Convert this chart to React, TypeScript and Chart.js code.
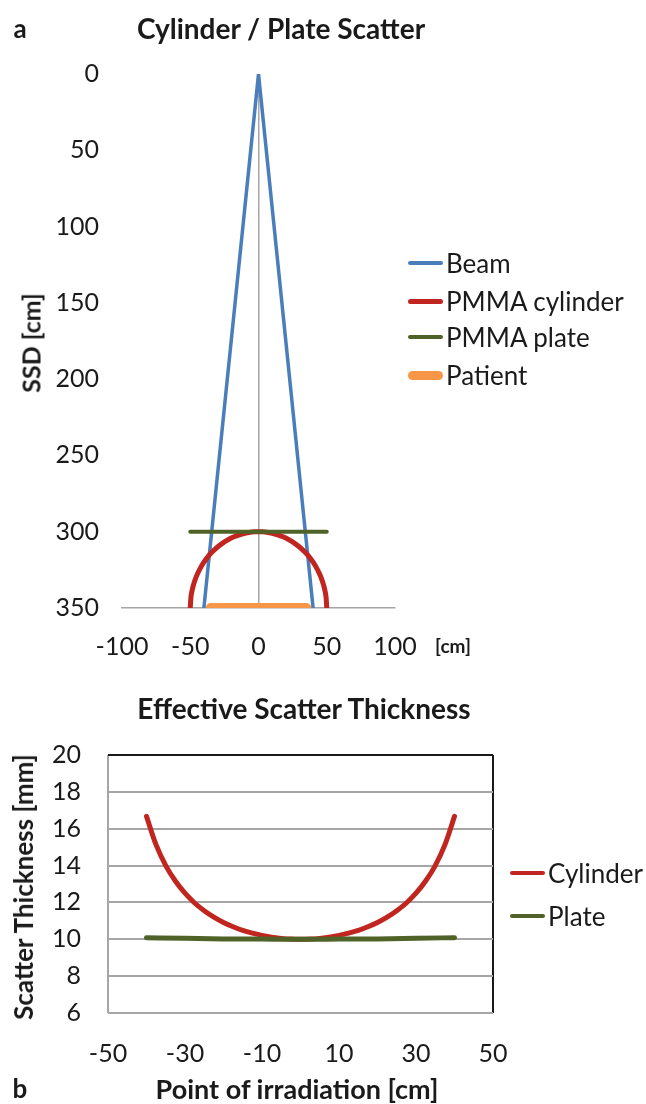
import React, { useEffect, useRef } from "react";
import { Chart, registerables } from "chart.js";

Chart.register(...registerables);

// ---------- Data: top chart (geometry) ----------
const beamX = [-40, 0, 40];
const beamY = [350, 0, 350];

const cylX = [-50, -49.5, -49, -48, -47, -46, -45, -43, -40, -37, -34, -30, -26, -22, -18, -14, -10, -6, -3, 0,
  3, 6, 10, 14, 18, 22, 26, 30, 34, 37, 40, 43, 45, 46, 47, 48, 49, 49.5, 50];
const cylY = [350, 342.95, 340.05, 336, 332.94, 330.4, 328.21, 324.49, 320, 316.37, 313.34, 310, 307.29, 305.1, 303.35, 302, 301.01, 300.36, 300.09, 300,
  300.09, 300.36, 301.01, 302, 303.35, 305.1, 307.29, 310, 313.34, 316.37, 320, 324.49, 328.21, 330.4, 332.94, 336, 340.05, 342.95, 350];

const plateX = [-50, 50];
const plateY = [300, 300];

const patientX = [-35, 35];
const patientY = [350, 350];

const topXTicks = [-100, -50, 0, 50, 100];
const topYTicks = [0, 50, 100, 150, 200, 250, 300, 350];

// ---------- Data: bottom chart (effective thickness) ----------
const effX = [-40, -37.5, -35, -32.5, -30, -27.5, -25, -22.5, -20, -17.5, -15, -12.5, -10, -7.5, -5, -2.5, 0,
  2.5, 5, 7.5, 10, 12.5, 15, 17.5, 20, 22.5, 25, 27.5, 30, 32.5, 35, 37.5, 40];
const effCyl = [16.67, 15.12, 14.0, 13.16, 12.5, 11.97, 11.55, 11.2, 10.91, 10.68, 10.48, 10.33, 10.21, 10.11, 10.05, 10.01, 10.0,
  10.01, 10.05, 10.11, 10.21, 10.33, 10.48, 10.68, 10.91, 11.2, 11.55, 11.97, 12.5, 13.16, 14.0, 15.12, 16.67];
const plateEffX = [-40, -30, -20, -10, 0, 10, 20, 30, 40];
const plateEff = [10.09, 10.05, 10.02, 10.01, 10.0, 10.01, 10.02, 10.05, 10.09];

const botXTicks = [-50, -30, -10, 10, 30, 50];
const botYTicks = [6, 8, 10, 12, 14, 16, 18, 20];

const FONT = "Lato, 'Open Sans', sans-serif";
const TEXT = "#1a1a1a";
const C_BEAM = "#4a7ebb";
const C_CYL = "#c0261f";
const C_PLATE = "#4f6228";
const C_PAT = "#f79646";
const GRID = "#a6a6a6";

const pts = (xs: number[], ys: number[]) => xs.map((x, i) => ({ x, y: ys[i] }));

function TopChart() {
  const ref = useRef<HTMLCanvasElement>(null);
  useEffect(() => {
    const chart = new Chart(ref.current!, {
      type: "scatter",
      data: {
        datasets: [
          { label: "Beam", data: pts(beamX, beamY), showLine: true, borderColor: C_BEAM, borderWidth: 3.5, pointRadius: 0, borderCapStyle: "round", borderJoinStyle: "round", order: 4 },
          { label: "PMMA cylinder", data: pts(cylX, cylY), showLine: true, borderColor: C_CYL, borderWidth: 5, pointRadius: 0, borderCapStyle: "round", cubicInterpolationMode: "monotone", order: 3 },
          { label: "PMMA plate", data: pts(plateX, plateY), showLine: true, borderColor: C_PLATE, borderWidth: 4, pointRadius: 0, borderCapStyle: "round", order: 2 },
          { label: "Patient", data: pts(patientX, patientY), showLine: true, borderColor: C_PAT, borderWidth: 10, pointRadius: 0, borderCapStyle: "round", order: 1 },
        ] as any,
      },
      options: {
        animation: false,
        responsive: false,
        events: [],
        layout: { padding: { top: 74, right: 251, left: 0, bottom: 0 } },
        plugins: { legend: { display: false }, title: { display: false }, tooltip: { enabled: false } },
        scales: {
          x: {
            type: "linear",
            min: -100,
            max: 100,
            afterBuildTicks: (s: any) => { s.ticks = topXTicks.map((v) => ({ value: v })); },
            afterFit: (s: any) => { s.height = 72; },
            ticks: { autoSkip: false, maxRotation: 0, padding: 24, color: TEXT, font: { family: FONT, size: 25 } },
            grid: {
              drawTicks: false,
              color: (c: any) => (c.tick && c.tick.value === 0 ? GRID : "rgba(0,0,0,0)"),
              lineWidth: 1.5,
            },
            border: { display: true, color: GRID, width: 1.5 },
          },
          y: {
            type: "linear",
            reverse: true,
            min: 0,
            max: 350,
            afterBuildTicks: (s: any) => { s.ticks = topYTicks.map((v) => ({ value: v })); },
            afterFit: (s: any) => { s.width = 122; },
            ticks: { autoSkip: false, padding: 23, color: TEXT, font: { family: FONT, size: 25 } },
            grid: { display: false, drawTicks: false },
            border: { display: false },
          },
        },
      } as any,
    });
    return () => chart.destroy();
  }, []);
  return <canvas ref={ref} width={646} height={680} style={{ position: "absolute", left: 0, top: 0 }} />;
}

function BottomChart() {
  const ref = useRef<HTMLCanvasElement>(null);
  useEffect(() => {
    const chart = new Chart(ref.current!, {
      type: "scatter",
      data: {
        datasets: [
          { label: "Cylinder", data: pts(effX, effCyl), showLine: true, borderColor: C_CYL, borderWidth: 5, pointRadius: 0, borderCapStyle: "round", cubicInterpolationMode: "monotone", order: 2 },
          { label: "Plate", data: pts(plateEffX, plateEff), showLine: true, borderColor: C_PLATE, borderWidth: 5, pointRadius: 0, borderCapStyle: "round", cubicInterpolationMode: "monotone", order: 1 },
        ] as any,
      },
      options: {
        animation: false,
        responsive: false,
        events: [],
        layout: { padding: { top: 75, right: 153, left: 0, bottom: 0 } },
        plugins: { legend: { display: false }, title: { display: false }, tooltip: { enabled: false } },
        scales: {
          x: {
            type: "linear",
            min: -50,
            max: 50,
            afterBuildTicks: (s: any) => { s.ticks = botXTicks.map((v) => ({ value: v })); },
            afterFit: (s: any) => { s.height = 91; },
            ticks: { autoSkip: false, maxRotation: 0, padding: 26, color: TEXT, font: { family: FONT, size: 25 } },
            grid: {
              drawTicks: false,
              lineWidth: 2,
              color: (c: any) => {
                const v = c.tick && c.tick.value;
                if (v === 50) return "#1a1a1a";
                if (v === -50) return GRID;
                return "rgba(0,0,0,0)";
              },
            },
            border: { display: false },
          },
          y: {
            type: "linear",
            min: 6,
            max: 20,
            afterBuildTicks: (s: any) => { s.ticks = botYTicks.map((v) => ({ value: v })); },
            afterFit: (s: any) => { s.width = 108; },
            ticks: { autoSkip: false, padding: 27, color: TEXT, font: { family: FONT, size: 25 } },
            grid: {
              drawTicks: false,
              lineWidth: 2,
              color: (c: any) => (c.tick && c.tick.value === 20 ? "#1a1a1a" : GRID),
            },
            border: { display: false },
          },
        },
      } as any,
    });
    return () => chart.destroy();
  }, []);
  return <canvas ref={ref} width={646} height={424} style={{ position: "absolute", left: 0, top: 680 }} />;
}

const Txt = ({ x, y, size, bold, rotate, children, align }: any) => (
  <div
    style={{
      position: "absolute",
      left: x,
      top: y,
      transform: `translate(${align === "left" ? "0" : "-50%"},-50%)${rotate ? " rotate(-90deg)" : ""}`,
      fontFamily: FONT,
      fontSize: size,
      fontWeight: bold ? 700 : 400,
      color: TEXT,
      whiteSpace: "nowrap",
      lineHeight: 1,
    }}
  >
    {children}
  </div>
);

const LegendItem = ({ x, y, color, thick, label }: any) => (
  <>
    <div
      style={{
        position: "absolute",
        left: x,
        top: y - thick / 2,
        width: 35,
        height: thick,
        background: color,
        borderRadius: thick / 2,
      }}
    />
    <Txt x={x + 38} y={y} size={26} align="left">{label}</Txt>
  </>
);

export default function App() {
  return (
    <div style={{ position: "absolute", left: 0, top: 0, width: 646, height: 1104, background: "#fff", overflow: "hidden" }}>
      <TopChart />
      <BottomChart />
      <Txt x={20} y={28} size={26} bold>a</Txt>
      <Txt x={281} y={28} size={28} bold>Cylinder / Plate Scatter</Txt>
      <Txt x={31} y={343} size={25} bold rotate>SSD [cm]</Txt>
      <Txt x={453} y={645} size={19} bold>[cm]</Txt>
      <LegendItem x={408} y={263} color={C_BEAM} thick={4} label="Beam" />
      <LegendItem x={408} y={301} color={C_CYL} thick={5} label="PMMA cylinder" />
      <LegendItem x={408} y={337} color={C_PLATE} thick={4} label="PMMA plate" />
      <LegendItem x={408} y={375} color={C_PAT} thick={9} label="Patient" />

      <Txt x={304} y={708} size={28} bold>Effective Scatter Thickness</Txt>
      <Txt x={23} y={887} size={26} bold rotate>Scatter Thickness [mm]</Txt>
      <Txt x={297} y={1088} size={27} bold>Point of irradiation [cm]</Txt>
      <Txt x={20} y={1088} size={26} bold>b</Txt>
      <LegendItem x={510} y={873} color={C_CYL} thick={4.5} label="Cylinder" />
      <LegendItem x={510} y={916} color={C_PLATE} thick={4.5} label="Plate" />
    </div>
  );
}
